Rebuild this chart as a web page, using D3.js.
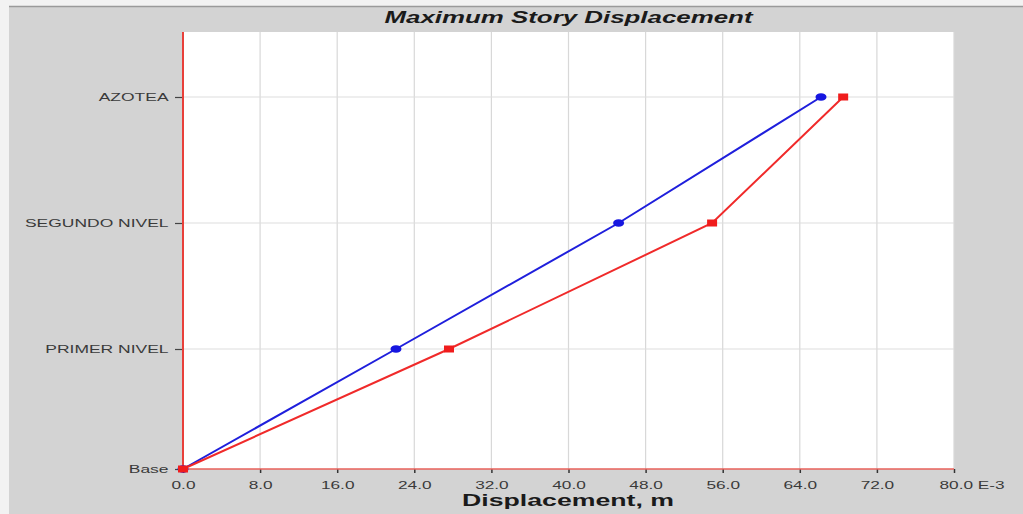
<!DOCTYPE html>
<html><head><meta charset="utf-8">
<script src="https://cdn.jsdelivr.net/npm/d3@7"></script>
<style>
html,body{margin:0;padding:0;background:#f2f2f2;overflow:hidden}
svg{display:block}
text{font-family:"Liberation Sans",Arial,sans-serif}
</style></head>
<body>
<svg id="chart" width="1023" height="514"></svg>
<script>
// ---- data ----
const stories = ["Base", "PRIMER NIVEL", "SEGUNDO NIVEL", "AZOTEA"];
const elevations = [0, 3.0, 6.15, 9.3];           // story elevations (m)
const dispX = [0, 22.1, 45.2, 66.2];              // blue series, E-3 m
const dispY = [0, 27.6, 54.9, 68.5];              // red series, E-3 m
const xTicks = [0, 8, 16, 24, 32, 40, 48, 56, 64, 72, 80];
const title = "Maximum Story Displacement";
const xTitle = "Displacement, m";

const svg = d3.select("#chart");
const W = 1023, H = 514;
const m = {left: 183, right: 954, top: 32, bottom: 469};

// panel background
svg.append("rect").attr("x", 9).attr("y", 6).attr("width", W - 9).attr("height", H - 6).attr("fill", "#d3d3d3");
svg.append("line").attr("x1", 9).attr("x2", W).attr("y1", 6.5).attr("y2", 6.5).attr("stroke", "#9a9a9a").attr("stroke-width", 1.5);

const x = d3.scaleLinear().domain([0, 80]).range([m.left, m.right]);
const y = d3.scaleLinear().domain([0, 10.925]).range([m.bottom, m.top]);

// plot area
svg.append("rect").attr("x", m.left).attr("y", m.top).attr("width", m.right - m.left).attr("height", m.bottom - m.top).attr("fill", "#ffffff");

// grid
svg.append("g").selectAll("line").data(xTicks.slice(1)).join("line")
  .attr("x1", d => x(d)).attr("x2", d => x(d)).attr("y1", m.top).attr("y2", m.bottom)
  .attr("stroke", "#d8d8d8").attr("stroke-width", 1.2);
svg.append("g").selectAll("line").data(elevations.slice(1)).join("line")
  .attr("x1", m.left).attr("x2", m.right).attr("y1", d => y(d)).attr("y2", d => y(d))
  .attr("stroke", "#dedede").attr("stroke-width", 1.2);

// x axis
const xAxis = svg.append("g").attr("transform", `translate(0,${m.bottom})`)
  .call(d3.axisBottom(x).tickValues(xTicks).tickSize(4).tickPadding(8)
    .tickFormat((d, i) => d.toFixed(1) + (i === xTicks.length - 1 ? " E-3" : "")));
xAxis.select(".domain").remove();
xAxis.selectAll(".tick line").attr("stroke", "#333").attr("stroke-width", 1.5);
xAxis.selectAll(".tick text").attr("fill", "#3a3a3a").attr("font-size", 11.5)
  .attr("transform", "scale(1.5,1)")
  .each(function(d, i) {
    if (i === xTicks.length - 1) d3.select(this).attr("text-anchor", "start").attr("x", -10);
  });

// y axis
const yAxis = svg.append("g").attr("transform", `translate(${m.left},0)`)
  .call(d3.axisLeft(y).tickValues(elevations).tickSize(8).tickPadding(3)
    .tickFormat((d, i) => stories[i]));
yAxis.select(".domain").remove();
yAxis.selectAll(".tick line").attr("stroke", "#444").attr("stroke-width", 1.2);
yAxis.selectAll(".tick text").attr("fill", "#3a3a3a").attr("font-size", 11.5)
  .attr("transform", "scale(1.52,1)").attr("x", -9.5);

// axis lines (red)
svg.append("line").attr("x1", m.left).attr("x2", m.right).attr("y1", m.bottom).attr("y2", m.bottom)
  .attr("stroke", "#e8605a").attr("stroke-width", 1.5);
svg.append("line").attr("x1", m.left).attr("x2", m.left).attr("y1", m.top).attr("y2", m.bottom)
  .attr("stroke", "#e8403a").attr("stroke-width", 2);

// series
const blue = dispX.map((v, i) => [v, elevations[i]]);
const red = dispY.map((v, i) => [v, elevations[i]]);
const line = d3.line().x(d => x(d[0])).y(d => y(d[1]));

svg.append("path").datum(blue).attr("d", line).attr("fill", "none").attr("stroke", "#1f1fdc").attr("stroke-width", 2);
svg.append("path").datum(red).attr("d", line).attr("fill", "none").attr("stroke", "#f02a2a").attr("stroke-width", 2);

svg.append("g").selectAll("ellipse").data(blue).join("ellipse")
  .attr("cx", d => x(d[0])).attr("cy", d => y(d[1])).attr("rx", 5.5).attr("ry", 3.8).attr("fill", "#1616e0");
svg.append("g").selectAll("rect").data(red).join("rect")
  .attr("x", d => x(d[0]) - 5).attr("y", d => y(d[1]) - 3.5).attr("width", 10).attr("height", 7).attr("fill", "#f01c1c");

// titles
svg.append("text").attr("x", (m.left + m.right) / 2).attr("y", 23).attr("text-anchor", "middle")
  .attr("font-size", 16).attr("font-weight", "bold").attr("font-style", "italic").attr("fill", "#1a1a1a")
  .attr("textLength", 368).attr("lengthAdjust", "spacingAndGlyphs").text(title);
svg.append("text").attr("x", 568).attr("y", 506).attr("text-anchor", "middle")
  .attr("font-size", 17).attr("font-weight", "bold").attr("fill", "#1a1a1a")
  .attr("textLength", 212).attr("lengthAdjust", "spacingAndGlyphs").text(xTitle);
</script>
</body></html>
